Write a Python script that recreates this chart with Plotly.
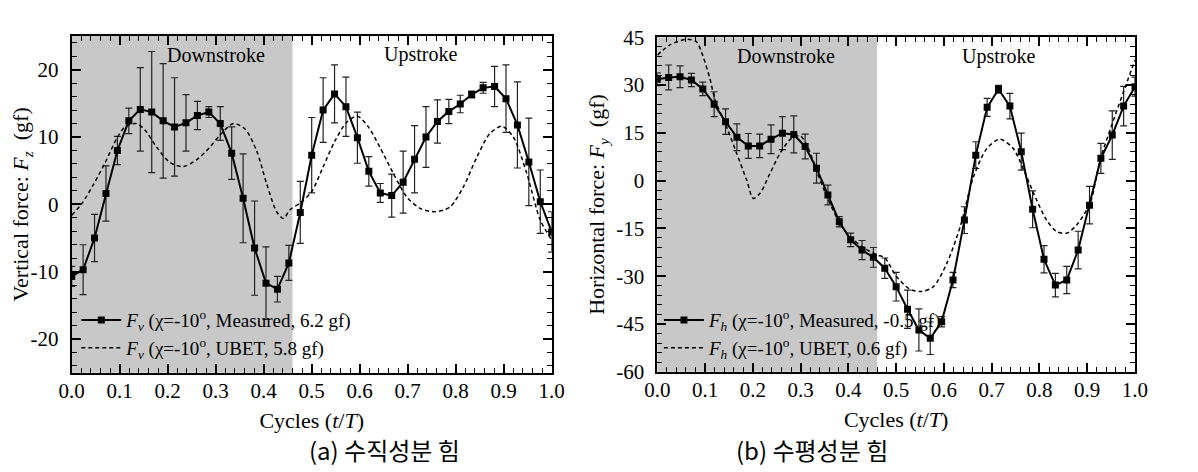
import plotly.graph_objects as go

# ---------------- data ----------------
CYCLE = [0.0000, 0.0238, 0.0476, 0.0714, 0.0952, 0.1190, 0.1429, 0.1667, 0.1905, 0.2143,
         0.2381, 0.2619, 0.2857, 0.3095, 0.3333, 0.3571, 0.3810, 0.4048, 0.4286, 0.4524,
         0.4762, 0.5000, 0.5238, 0.5476, 0.5714, 0.5952, 0.6190, 0.6429, 0.6667, 0.6905,
         0.7143, 0.7381, 0.7619, 0.7857, 0.8095, 0.8333, 0.8571, 0.8810, 0.9048, 0.9286,
         0.9524, 0.9762, 1.0000]

FZ_MEAS = [-10.7, -9.7, -5.0, 1.6, 8.0, 12.4, 14.1, 13.7, 12.4, 11.5,
           12.1, 13.2, 13.7, 12.0, 7.6, 0.9, -6.5, -11.7, -12.6, -8.7,
           -1.2, 7.3, 14.0, 16.4, 14.5, 9.9, 4.9, 1.7, 1.3, 3.3,
           6.7, 10.0, 12.3, 13.8, 14.9, 16.3, 17.3, 17.5, 15.7, 11.8,
           6.3, 0.4, -4.1]
FZ_ERR = [1.5, 3.7, 3.5, 4.1, 2.1, 1.9, 6.2, 9.0, 8.5, 7.3,
          4.2, 2.1, 0.8, 2.5, 3.9, 6.6, 7.0, 5.4, 1.9, 2.6,
          4.6, 5.6, 4.8, 4.3, 4.4, 3.8, 2.2, 1.4, 3.2, 4.6,
          5.0, 4.5, 3.2, 1.8, 1.3, 0.5, 0.8, 3.0, 5.0, 6.4,
          6.5, 4.7, 3.0]

FZ_UBET_T = [0.0, 0.021, 0.045, 0.069, 0.094, 0.111, 0.135, 0.153, 0.177, 0.205,
             0.232, 0.26, 0.288, 0.309, 0.337, 0.361, 0.385, 0.406, 0.427, 0.441,
             0.455, 0.476, 0.5, 0.524, 0.549, 0.573, 0.595, 0.618, 0.642, 0.67,
             0.698, 0.726, 0.757, 0.788, 0.816, 0.844, 0.871, 0.896, 0.92, 0.948,
             0.976, 1.0]
FZ_UBET = [-1.6, 0.1, 2.9, 6.1, 9.8, 11.5, 12.0, 11.0, 8.5, 6.2,
           5.6, 6.6, 8.5, 10.3, 12.0, 11.2, 8.0, 3.1, -1.1, -2.1,
           -0.8, 0.2, 1.9, 5.6, 9.5, 12.2, 13.1, 11.5, 8.5, 4.6,
           1.1, -0.6, -1.1, -0.4, 2.6, 7.0, 10.5, 11.6, 10.0, 4.6,
           -2.3, -5.3]

FY_MEAS = [31.8, 32.4, 32.6, 31.6, 28.8, 24.0, 18.5, 13.6, 10.9, 10.9,
           13.0, 14.9, 14.5, 10.7, 3.9, -4.5, -12.9, -18.6, -21.8, -24.1,
           -27.5, -33.3, -40.4, -46.9, -49.5, -44.3, -31.2, -12.4, 8.0, 23.0,
           28.7, 23.4, 9.1, -9.0, -24.7, -32.8, -31.2, -21.8, -7.7, 7.0,
           14.3, 23.4, 29.5]
FY_ERR = [2.0, 3.9, 3.4, 2.1, 2.1, 3.9, 4.0, 4.2, 3.9, 3.7,
          4.5, 5.2, 5.8, 3.9, 4.7, 3.1, 1.6, 2.1, 3.0, 3.1,
          3.2, 4.5, 6.0, 6.6, 5.1, 1.6, 2.4, 4.2, 4.2, 2.8,
          1.2, 4.0, 5.8, 5.8, 4.3, 3.7, 4.3, 5.9, 5.9, 4.7,
          7.6, 6.2, 3.0]

FY_UBET_T = [0.0, 0.026, 0.05, 0.064, 0.082, 0.096, 0.11, 0.121, 0.145, 0.166,
             0.187, 0.201, 0.215, 0.236, 0.257, 0.281, 0.3, 0.315, 0.334, 0.355,
             0.382, 0.403, 0.431, 0.46, 0.476, 0.501, 0.529, 0.553, 0.578, 0.606,
             0.634, 0.662, 0.690, 0.717, 0.745, 0.773, 0.794, 0.815, 0.836, 0.857,
             0.878, 0.906, 0.927, 0.955, 0.976, 1.0]
FY_UBET = [39.4, 42.6, 44.0, 44.4, 43.6, 38.9, 32.1, 25.3, 16.9, 8.6,
           0.2, -5.6, -4.0, 2.3, 8.6, 13.3, 14.0, 10.5, 2.8, -5.0,
           -13.4, -17.6, -21.0, -23.3, -24.2, -30.2, -34.1, -34.8, -33.3, -26.0,
           -14.5, 1.2, 10.1, 13.0, 10.1, 1.2, -6.1, -12.4, -16.0, -16.5,
           -13.9, -7.1, 6.5, 19.0, 27.9, 37.9]

X_TICKS = [0.0, 0.1, 0.2, 0.3, 0.4, 0.5, 0.6, 0.7, 0.8, 0.9, 1.0]
X_TICKTEXT = ["0.0", "0.1", "0.2", "0.3", "0.4", "0.5", "0.6", "0.7", "0.8", "0.9", "1.0"]
FZ_TICKS = [-20, -10, 0, 10, 20]
FZ_TICKTEXT = ["-20", "-10", "0", "10", "20"]
FY_TICKS = [-60, -45, -30, -15, 0, 15, 30, 45]
FY_TICKTEXT = ["-60", "-45", "-30", "-15", "0", "15", "30", "45"]
DOWNSTROKE_END = 0.46

FONT = "Liberation Serif, Times New Roman, Times, serif"
CJK = "Noto Sans CJK KR, sans-serif"
SHADE = "rgb(200,200,200)"

fig = go.Figure()

def add_pair(xa, ya, leg, meas, err, ut, uv, sub, m_txt, u_txt):
    fig.add_trace(go.Scatter(
        x=CYCLE, y=meas, mode="lines+markers", xaxis=xa, yaxis=ya, legend=leg,
        line=dict(color="black", width=2),
        marker=dict(symbol="square", size=7, color="black"),
        error_y=dict(type="data", array=err, color="#222222", thickness=1.2, width=3.5),
        name="<i>F</i><sub><i>%s</i></sub> (χ=-10<sup>o</sup>, %s)" % (sub, m_txt),
    ))
    fig.add_trace(go.Scatter(
        x=ut, y=uv, mode="lines", xaxis=xa, yaxis=ya, legend=leg,
        line=dict(color="black", width=1.5, dash="4px,3px", shape="spline", smoothing=0.8),
        name="<i>F</i><sub><i>%s</i></sub> (χ=-10<sup>o</sup>, %s)" % (sub, u_txt),
    ))

add_pair("x", "y", "legend", FZ_MEAS, FZ_ERR, FZ_UBET_T, FZ_UBET, "v",
         "Measured, 6.2 gf", "UBET, 5.8 gf")
add_pair("x2", "y2", "legend2", FY_MEAS, FY_ERR, FY_UBET_T, FY_UBET, "h",
         "Measured, -0.5 gf", "UBET, 0.6 gf")

common_x = dict(
    range=[0, 1], tickmode="array", tickvals=X_TICKS, ticktext=X_TICKTEXT,
    ticks="inside", ticklen=9, tickwidth=1.5, tickcolor="black",
    minor=dict(tickmode="linear", tick0=0, dtick=0.02, ticks="inside", ticklen=5,
               tickwidth=1.2, tickcolor="black"),
    showline=True, linecolor="black", linewidth=1.8, mirror="allticks",
    showgrid=False, zeroline=False, tickfont=dict(size=21, family=FONT),
    ticklabelstandoff=-2, automargin=False,
)
common_y = dict(
    ticks="inside", ticklen=9, tickwidth=1.5, tickcolor="black",
    showline=True, linecolor="black", linewidth=1.8, mirror="allticks",
    showgrid=False, zeroline=False, tickfont=dict(size=21, family=FONT),
    ticklabelstandoff=7, automargin=False,
)

# figure is placed by the page with an 8px body margin
fig.update_layout(
    width=1190, height=464,
    margin=dict(l=0, r=0, t=0, b=0, autoexpand=False),
    paper_bgcolor="white", plot_bgcolor="white",
    font=dict(family=FONT, color="black", size=20),
    xaxis=dict(domain=[0.05353, 0.45689], anchor="y",
               title=dict(text="Cycles (<i>t</i>/<i>T</i>)", font=dict(size=22, family=FONT),
                          standoff=11),
               **common_x),
    xaxis2=dict(domain=[0.54563, 0.94706], anchor="y2",
                title=dict(text="Cycles (<i>t</i>/<i>T</i>)", font=dict(size=22, family=FONT),
                           standoff=11),
                **common_x),
    yaxis=dict(domain=[0.21401, 0.93966], anchor="x", range=[-25, 25],
               tickmode="array", tickvals=FZ_TICKS, ticktext=FZ_TICKTEXT,
               minor=dict(tickmode="linear", tick0=0, dtick=2, ticks="inside", ticklen=5,
                          tickwidth=1.2, tickcolor="black"),
               title=dict(text="Vertical force: <i>F</i><sub><i>z</i></sub>  (gf)",
                          font=dict(size=22, family=FONT), standoff=9),
               **common_y),
    yaxis2=dict(domain=[0.21616, 0.93685], anchor="x2", range=[-60, 45],
                tickmode="array", tickvals=FY_TICKS, ticktext=FY_TICKTEXT,
                minor=dict(tickmode="linear", tick0=0, dtick=3, ticks="inside", ticklen=5,
                           tickwidth=1.2, tickcolor="black"),
                title=dict(text="Horizontal force: <i>F</i><sub><i>y</i></sub>  (gf)",
                           font=dict(size=22, family=FONT), standoff=5),
                **common_y),
    legend=dict(x=0.0574, y=0.226, xanchor="left", yanchor="bottom",
                bgcolor="rgba(0,0,0,0)", font=dict(size=19, family=FONT), itemwidth=40,
                tracegroupgap=0),
    legend2=dict(x=0.547, y=0.226, xanchor="left", yanchor="bottom",
                 bgcolor="rgba(0,0,0,0)", font=dict(size=19, family=FONT), itemwidth=40,
                 tracegroupgap=0),
    shapes=[
        dict(type="rect", xref="x", yref="y domain", x0=0, x1=DOWNSTROKE_END, y0=0, y1=1,
             fillcolor=SHADE, line=dict(width=0), layer="below"),
        dict(type="rect", xref="x2", yref="y2 domain", x0=0, x1=DOWNSTROKE_END, y0=0, y1=1,
             fillcolor=SHADE, line=dict(width=0), layer="below"),
    ],
    annotations=[
        dict(text="Downstroke", xref="x", yref="y domain", x=0.30, y=0.944, yanchor="middle",
             showarrow=False, font=dict(size=20, family=FONT)),
        dict(text="Upstroke", xref="x", yref="y domain", x=0.726, y=0.944, yanchor="middle",
             showarrow=False, font=dict(size=20, family=FONT)),
        dict(text="Downstroke", xref="x2", yref="y2 domain", x=0.27, y=0.944, yanchor="middle",
             showarrow=False, font=dict(size=20, family=FONT)),
        dict(text="Upstroke", xref="x2", yref="y2 domain", x=0.715, y=0.944, yanchor="middle",
             showarrow=False, font=dict(size=20, family=FONT)),
        dict(text="(a) 수직성분 힘", xref="paper", yref="paper", x=0.2513, y=0.049,
             yanchor="middle", showarrow=False, font=dict(size=24, family=CJK)),
        dict(text="(b) 수평성분 힘", xref="paper", yref="paper", x=0.7412, y=0.049,
             yanchor="middle", showarrow=False, font=dict(size=24, family=CJK)),
    ],
)

fig.write_html("out.html")
